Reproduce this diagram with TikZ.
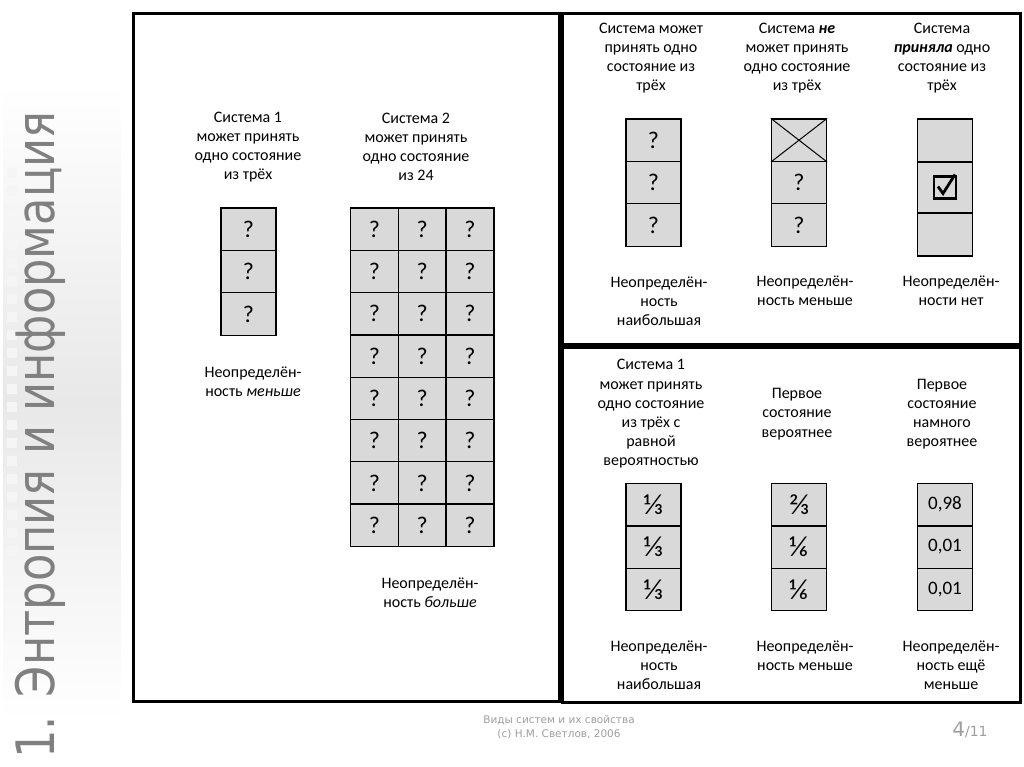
\documentclass[tikz,border=0pt]{standalone}
\usepackage{fontspec}
\setmainfont{Carlito}
\newfontfamily\titlefont{DejaVu Sans}
\newfontfamily\footfont{DejaVu Sans}
\definecolor{cellgray}{gray}{0.85}
\definecolor{titlegray}{gray}{0.5}
\definecolor{footgray}{gray}{0.62}
\newcommand{\captxt}{\fontsize{16}{19.2}\selectfont}
\newcommand{\qmark}{\fontsize{24}{26}\selectfont}
\newcommand{\fracfont}{\fontsize{29}{30}\selectfont}

\begin{document}
\begin{tikzpicture}[x=1pt,y=-1pt,
  panel/.style={line width=3pt},
  cell/.style={draw, fill=cellgray, line width=1.3pt, minimum width=55pt,
    minimum height=42.4pt, inner sep=0pt, font=\qmark},
  gcell/.style={cell, minimum width=47.8pt, minimum height=42.3pt},
  caption/.style={align=center, font=\captxt, inner sep=0pt}]
  \useasboundingbox (0,0) rectangle (1024,767);
  % --- title strip on the left: faint gradient band with a column of squares
  \shade[top color=white, bottom color=white, middle color=black!9] (3,85) rectangle (121,720);
  \foreach \k in {0,...,21}
    \fill[black!4] (7,168+18*\k) rectangle (17,178+18*\k);
  \node[rotate=90, xscale=0.845, anchor=base, text=titlegray, inner sep=0pt,
    font=\titlefont\fontsize{53}{53}\selectfont] (title) at (54,435) {1. Энтропия и информация};
  % --- left panel: system 1 (three states) and system 2 (24 states)
  \draw[panel] (133,14) rectangle (559,701);
  \node[caption] (s1head) at (248,147) {Система 1\\может принять\\одно состояние\\из трёх};
  \node[caption] (s2head) at (416,147) {Система 2\\может принять\\одно состояние\\из 24};
  \foreach \r in {1,2,3}
    \node[cell] (s1-\r) at (248.5,186.8+42.4*\r) {?};
  \foreach \r in {1,...,8}
    \foreach \c in {1,2,3}
      \node[gcell] (s2-\r-\c) at (326.6+47.8*\c,186.85+42.3*\r) {?};
  \node[caption] (s1foot) at (253,382) {Неопределён-\\ность \textit{меньше}};
  \node[caption] (s2foot) at (430,593) {Неопределён-\\ность \textit{больше}};
  % --- top right panel: can take / cannot take / has taken a state
  \draw[panel] (562,14) rectangle (1020,344);
  \node[caption] (p1head) at (651,58) {Система может\\принять одно\\состояние из\\трёх};
  \node[caption] (p2head) at (797,58) {Система \textbf{\textit{не}}\\может принять\\одно состояние\\из трёх};
  \node[caption] (p3head) at (942,58) {Система\\\textbf{\textit{приняла}} одно\\состояние из\\трёх};
  \foreach \r in {1,2,3}
    \node[cell] (p1-\r) at (653.5,97.8+42.4*\r) {?};
  \node[cell] (p2-1) at (799,140.2) {};
  \node[cell] (p2-2) at (799,182.6) {?};
  \node[cell] (p2-3) at (799,225.0) {?};
  \draw[line width=1pt] (p2-1.north west) -- (p2-1.south east) (p2-1.north east) -- (p2-1.south west);
  \node[cell, minimum height=43pt] (p3-1) at (945,140.5) {};
  \node[cell, minimum height=51pt] (p3-2) at (945,187.5) {};
  \node[cell, minimum height=43pt] (p3-3) at (945,234.5) {};
  % ticked box in the chosen state
  \draw[line width=2.6pt] ([shift={(-11,-11)}]p3-2.center) rectangle ++(22,22);
  \draw[line width=2.8pt, line join=miter] ([shift={(-7,-1)}]p3-2.center) -- ++(5,7) -- ++(12,-19);
  \node[caption] (p1foot) at (659,301) {Неопределён-\\ность\\наибольшая};
  \node[caption] (p2foot) at (805,291) {Неопределён-\\ность меньше};
  \node[caption] (p3foot) at (951,291) {Неопределён-\\ности нет};
  % --- bottom right panel: states with unequal probabilities
  \draw[panel] (562,347) rectangle (1020,702);
  \node[caption] (q1head) at (651,414) {Система 1\\может принять\\одно состояние\\из трёх с\\равной\\вероятностью};
  \node[caption] (q2head) at (797,414) {Первое\\состояние\\вероятнее};
  \node[caption] (q3head) at (942,414) {Первое\\состояние\\намного\\вероятнее};
  \node[cell, font=\fracfont] (q1-1) at (653.5,504.7) {⅓};
  \node[cell, font=\fracfont] (q1-2) at (653.5,547.1) {⅓};
  \node[cell, font=\fracfont] (q1-3) at (653.5,589.5) {⅓};
  \node[cell, font=\fracfont] (q2-1) at (799,504.7) {⅔};
  \node[cell, font=\fracfont] (q2-2) at (799,547.1) {⅙};
  \node[cell, font=\fracfont] (q2-3) at (799,589.5) {⅙};
  \node[cell, font=\fontsize{19}{22}\selectfont, text depth=3pt] (q3-1) at (945,504.7) {0,98};
  \node[cell, font=\fontsize{19}{22}\selectfont, text depth=3pt] (q3-2) at (945,547.1) {0,01};
  \node[cell, font=\fontsize{19}{22}\selectfont, text depth=3pt] (q3-3) at (945,589.5) {0,01};
  \node[caption] (q1foot) at (659,665) {Неопределён-\\ность\\наибольшая};
  \node[caption] (q2foot) at (805,655.5) {Неопределён-\\ность меньше};
  \node[caption] (q3foot) at (951,665) {Неопределён-\\ность ещё\\меньше};
  % --- slide footer
  \node[align=center, text=footgray, font=\footfont\fontsize{10.5}{14.5}\selectfont] (foot) at (559,727)
    {Виды систем и их свойства\\(с) Н.М. Светлов, 2006};
  \node[text=footgray, font=\footfont] (page) at (970,730)
    {{\fontsize{20}{20}\selectfont 4}{\fontsize{14}{14}\selectfont/11}};
\end{tikzpicture}
\end{document}
